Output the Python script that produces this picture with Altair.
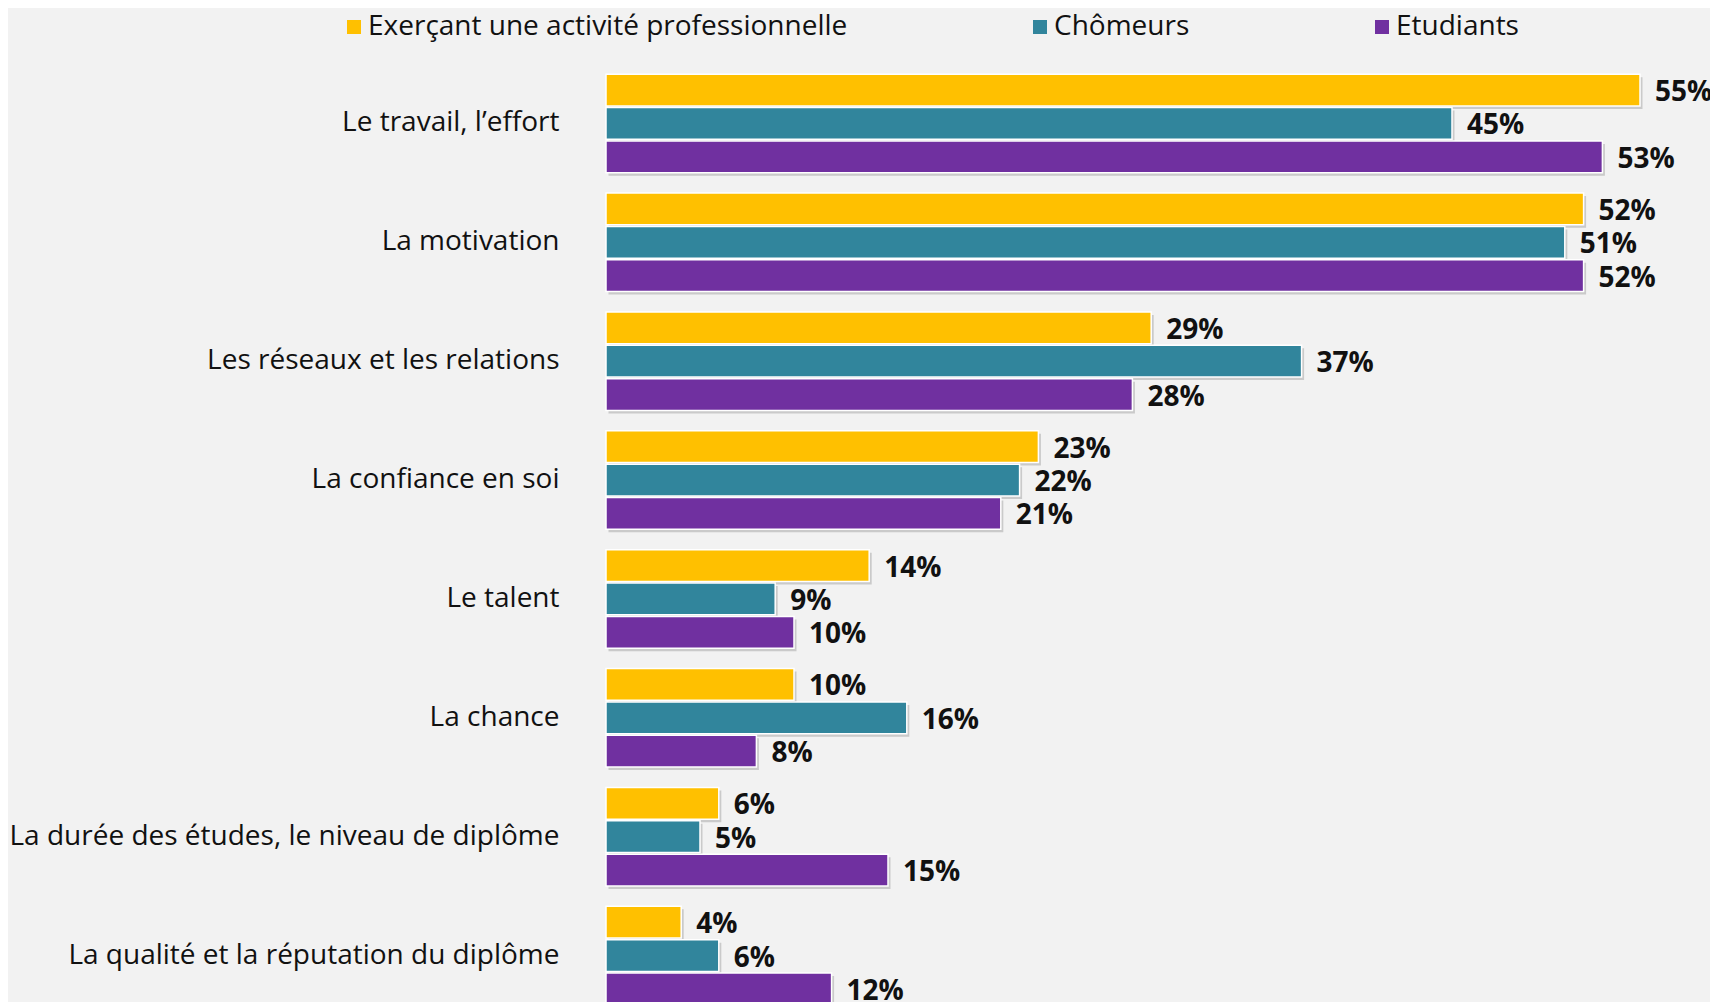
import altair as alt
import pandas as pd

categories = [
    "Le travail, l’effort",
    "La motivation",
    "Les réseaux et les relations",
    "La confiance en soi",
    "Le talent",
    "La chance",
    "La durée des études, le niveau de diplôme",
    "La qualité et la réputation du diplôme",
]
series = ["Exerçant une activité professionnelle", "Chômeurs", "Etudiants"]
colors = ["#FFC000", "#31859C", "#7030A0"]

actifs = [55, 52, 29, 23, 14, 10, 6, 4]
chomeurs = [45, 51, 37, 22, 9, 16, 5, 6]
etudiants = [53, 52, 28, 21, 10, 8, 15, 12]

rows = []
for i, c in enumerate(categories):
    for s, vals in zip(series, [actifs, chomeurs, etudiants]):
        rows.append({"cat": c, "serie": s, "val": vals[i], "lab": f"{vals[i]}%"})
df = pd.DataFrame(rows)

FONT = "Open Sans"
FS = 28
W = 1100
PX_PER_PCT = 18.8
Y_RANGE = 951
BAND = Y_RANGE / len(categories)

y_enc = alt.Y(
    "cat:N",
    sort=categories,
    scale=alt.Scale(range=[0, Y_RANGE], paddingInner=0, paddingOuter=0),
    axis=alt.Axis(
        title=None, ticks=False, domain=False, labelFontSize=FS, labelFont=FONT,
        labelColor="#111111", labelPadding=47, labelLimit=0,
    ),
)
yoff = alt.YOffset("serie:N", sort=series,
                   scale=alt.Scale(paddingInner=0.05, paddingOuter=0.305,
                                   range=[0, BAND]))
x_enc = alt.X("val:Q", scale=alt.Scale(domain=[0, W / PX_PER_PCT], nice=False,
                                       range=[0, W]), axis=None)

# soft drop shadow (shifted copy of the bars)
shadow = alt.Chart(df).mark_bar(color="#9a9a9a", opacity=0.45).encode(
    x=alt.X("val:Q", scale=alt.Scale(domain=[0, W / PX_PER_PCT], nice=False,
                                     range=[2.5, W + 2.5]), axis=None),
    y=y_enc,
    yOffset=alt.YOffset("serie:N", sort=series,
                        scale=alt.Scale(paddingInner=0.05, paddingOuter=0.305,
                                        range=[3, BAND + 3])),
)

bars = alt.Chart(df).mark_bar(stroke="white", strokeWidth=1.5).encode(
    x=x_enc,
    y=y_enc,
    yOffset=yoff,
    color=alt.Color(
        "serie:N",
        sort=series,
        scale=alt.Scale(domain=series, range=colors),
        legend=alt.Legend(
            title=None, orient="none", direction="horizontal",
            legendX=-266, legendY=-51, symbolType="square", symbolSize=196,
            symbolStrokeWidth=0, labelFontSize=FS, labelFont=FONT, labelColor="#111111",
            labelOffset=0, columnPadding=178, padding=0, labelLimit=0,
        ),
    ),
)

text = alt.Chart(df).mark_text(
    align="left", baseline="middle", dx=15, dy=3, fontSize=FS, fontWeight="bold",
    font=FONT, color="#111111",
).encode(x=x_enc, y=y_enc, yOffset=yoff, text="lab:N")

main = alt.layer(bars, text)

chart = (
    alt.layer(shadow, main)
    .resolve_scale(x="independent", yOffset="independent")
    .properties(
        width=W, height=938,
        autosize=alt.AutoSizeParams(type="none"),
        padding={"left": 598, "top": 56, "right": 4, "bottom": 0},
        background="#F2F2F2",
    )
    .configure_view(stroke=None)
)

chart.save("out.html", embed_options={"renderer": "svg", "actions": False})
